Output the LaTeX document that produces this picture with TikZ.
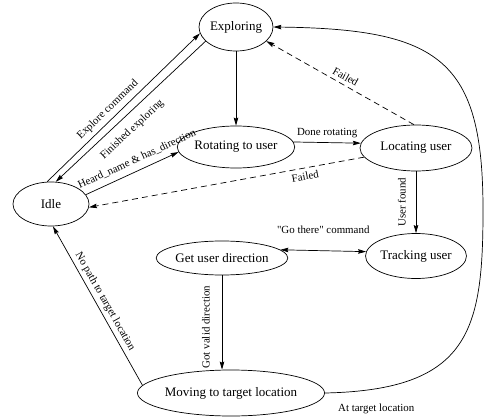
\documentclass[tikz,border=0pt]{standalone}
\usepackage{fontspec}
\setmainfont{Liberation Serif}[Ligatures=TeXOff]
\usetikzlibrary{shapes.geometric,arrows.meta}

\begin{document}
\begin{tikzpicture}[x=1pt,y=1pt,
  state/.style={draw,ellipse,inner sep=0pt,line width=0.7pt,font=\fontsize{13}{15}\selectfont},
  trans/.style={-{Stealth[length=8pt,width=4.5pt,inset=1pt]},line width=0.7pt},
  both/.style={{Stealth[length=8pt,width=4.5pt,inset=1pt]}-{Stealth[length=8pt,width=4.5pt,inset=1pt]},line width=0.7pt},
  fail/.style={trans,dash pattern=on 6pt off 4pt},
  lbl/.style={font=\fontsize{10.9}{13}\selectfont,inner sep=1pt},
  uplbl/.style={lbl,rotate=90}]
  \useasboundingbox (0,0) rectangle (484,-417);

  \node[state,minimum width=74pt,minimum height=48pt] (exploring) at (236,-27) {Exploring};
  \node[state,minimum width=112pt,minimum height=42pt] (rotating) at (236,-147) {Rotating to user};
  \node[state,minimum width=112pt,minimum height=46pt] (locating) at (416,-148) {Locating user};
  \node[state,minimum width=76pt,minimum height=44pt] (idle) at (51,-204) {Idle};
  \node[state,minimum width=102pt,minimum height=34pt] (getdir) at (222,-258) {Get user direction};
  \node[state,minimum width=92pt,minimum height=45pt] (tracking) at (416,-256) {Tracking user};
  \node[state,minimum width=158pt,minimum height=46pt] (moving) at (231,-393) {Moving to target location};

  \draw[trans] (idle.100) -- node[lbl,sloped,above=3pt,pos=0.44] {Explore command} (exploring.190);
  \draw[trans] (exploring.205) -- node[lbl,sloped,below=8pt,pos=0.555] {Finished exploring} (idle.78);
  \draw[trans] (exploring) -- (rotating);
  \draw[trans] (idle.15) -- node[lbl,sloped,above=5pt,pos=0.6] {Heard\_name \& has\_direction} (rotating.185);
  \draw[trans] (rotating.5) -- node[lbl,above=3pt] {Done rotating} (locating.175);
  \draw[fail] (locating.190) -- node[lbl,sloped,below=3pt,pos=0.22] {Failed} (idle.355);
  \draw[fail] (locating.95) -- node[lbl,sloped,above=3pt,pos=0.49] {Failed} (exploring.-25);
  \draw[trans] (locating) -- node[uplbl,above=9pt] {User found} (tracking);
  \draw[both] (getdir.8) -- node[lbl,above=16pt] {"Go there" command} (tracking.175);
  \draw[trans] (getdir) -- node[uplbl,above=11pt,pos=0.55] {Got valid direction} (getdir |- moving.north);
  \draw[trans] (moving.175) -- node[lbl,sloped,above=2pt] {No path to target location} (idle.275);
  \draw[trans] (moving.east) node[lbl,anchor=north west,xshift=12pt,yshift=-10pt] {At target location}
    .. controls (470,-390) and (483,-330) .. (483,-210)
    .. controls (483,-60) and (440,-29) .. (exploring.east);
\end{tikzpicture}
\end{document}
